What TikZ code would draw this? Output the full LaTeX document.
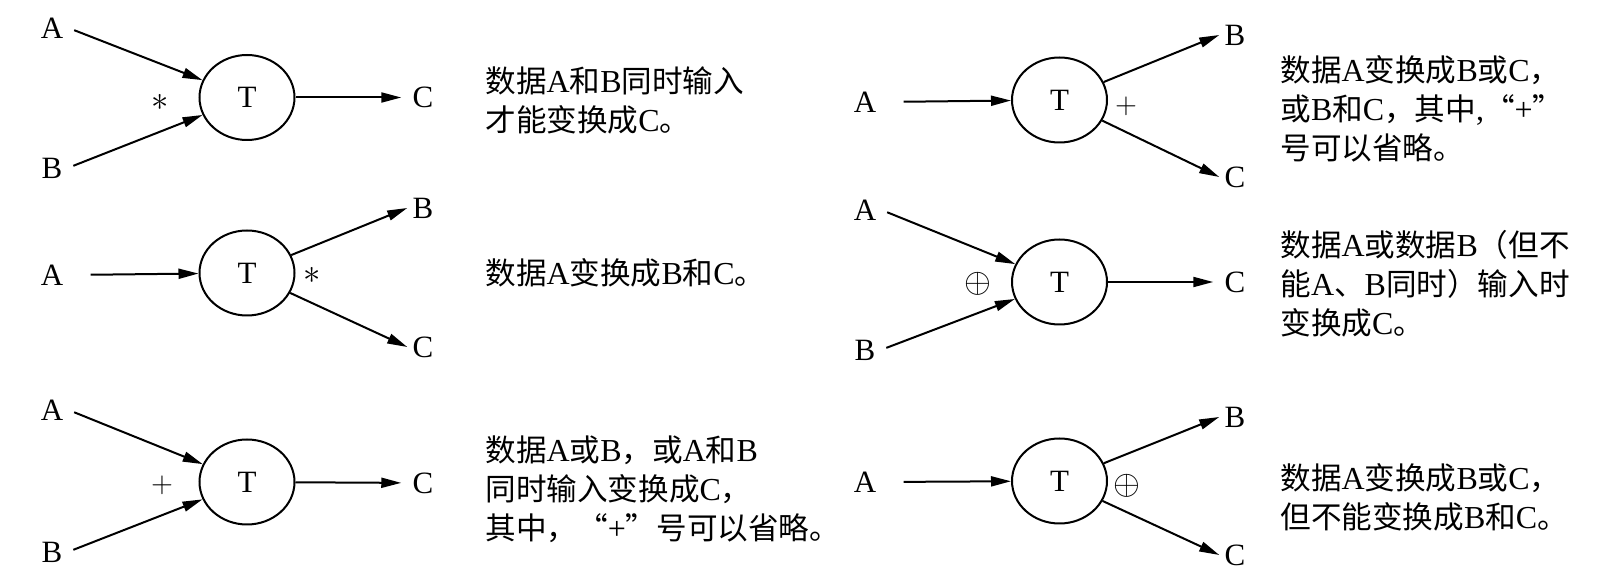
\documentclass[tikz,border=0pt]{standalone}
\usepackage{fontspec}
\setmainfont{Liberation Serif}
\newfontfamily\cjk{Noto Sans CJK SC}
\usetikzlibrary{shapes.geometric,arrows.meta}
\newcommand{\zh}[1]{{\cjk\fontsize{15.3}{19.5}\selectfont #1}}
\tikzset{
  lbl/.style={inner xsep=2.5pt, inner ysep=2pt, font=\fontsize{15.5}{18}\selectfont},
  proc/.style={ellipse, draw, line width=1pt, minimum width=47.5pt, minimum height=42.5pt, inner sep=0pt, font=\fontsize{15.5}{18}\selectfont},
  flow/.style={line width=1pt, -{Triangle[length=10pt,width=5pt]}},
  desc/.style={align=left, anchor=west, inner sep=0pt, font=\fontsize{16}{19.5}\selectfont},
  sym/.style={inner sep=0pt, font=\fontsize{15}{18}\selectfont}
}
\begin{document}
\begin{tikzpicture}[x=0.5pt,y=-0.5pt]
\useasboundingbox (0,0) rectangle (1619,582);
% ---------- panel 1
\node[lbl] (a1) at (52,28) {A};
\node[lbl] (b1) at (52,168) {B};
\node[proc] (t1) at (247,97.5) {T};
\node[lbl] (c1) at (423,97.5) {C};
\node[sym] (s1) at (160,102) {\fontsize{19}{20}\selectfont$\ast$};
\draw[flow, shorten <=3pt] (a1.east) -- (t1);
\draw[flow, shorten <=3pt] (b1.east) -- (t1);
\draw[flow, shorten >=3pt] (t1) -- (c1);
\node[desc] (d1) at (485,100) {\zh{数据}A\zh{和}B\zh{同时输入}\\\zh{才能变换成}C\zh{。}};
% ---------- panel 2
\node[lbl] (a2) at (52,275) {A};
\node[proc] (t2) at (247,273) {T};
\node[lbl] (b2) at (423,208) {B};
\node[lbl] (c2) at (423,347) {C};
\node[sym] (s2) at (312,275) {\fontsize{19}{20}\selectfont$\ast$};
\draw[flow, shorten <=11pt] (a2.east) -- (t2);
\draw[flow] (t2) -- (b2.west);
\draw[flow] (t2) -- (c2.west);
\node[desc] (d2) at (485,273) {\zh{数据}A\zh{变换成}B\zh{和}C\zh{。}};
% ---------- panel 3
\node[lbl] (a3) at (52,410) {A};
\node[lbl] (b3) at (52,552) {B};
\node[proc] (t3) at (247,482) {T};
\node[lbl] (c3) at (423,483) {C};
\node[sym] (s3) at (162,485) {\fontsize{14}{15}\selectfont$+$};
\draw[flow, shorten <=3pt] (a3.east) -- (t3);
\draw[flow, shorten <=3pt] (b3.east) -- (t3);
\draw[flow, shorten >=3pt] (t3) -- (c3);
\node[desc] (d3) at (485,489) {\zh{数据}A\zh{或}B\zh{，或}A\zh{和}B\\\zh{同时输入变换成}C\zh{，}\\\zh{其中，“}+\zh{”号可以省略。}};
% ---------- panel 4
\node[lbl] (a4) at (865,102) {A};
\node[proc] (t4) at (1059.5,100) {T};
\node[lbl] (b4) at (1235,35) {B};
\node[lbl] (c4) at (1235,177) {C};
\node[sym] (s4) at (1126,106) {\fontsize{14}{15}\selectfont$+$};
\draw[flow, shorten <=11pt] (a4.east) -- (t4);
\draw[flow] (t4) -- (b4.west);
\draw[flow] (t4) -- (c4.west);
\node[desc] (d4) at (1280,109) {\zh{数据}A\zh{变换成}B\zh{或}C\zh{，}\\\zh{或}B\zh{和}C\zh{，其中},\zh{“}+\zh{”}\\\zh{号可以省略。}};
% ---------- panel 5
\node[lbl] (a5) at (865,210) {A};
\node[lbl] (b5) at (865,350) {B};
\node[proc] (t5) at (1059.5,282) {T};
\node[lbl] (c5) at (1235,282) {C};
\node[sym] (s5) at (978,284) {\fontsize{17}{18}\selectfont$\oplus$};
\draw[flow, shorten <=3pt] (a5.east) -- (t5);
\draw[flow, shorten <=3pt] (b5.east) -- (t5);
\draw[flow, shorten >=3pt] (t5) -- (c5);
\node[desc] (d5) at (1280,284) {\zh{数据}A\zh{或数据}B\zh{（但不}\\\zh{能}A\zh{、}B\zh{同时）输入时}\\\zh{变换成}C\zh{。}};
% ---------- panel 6
\node[lbl] (a6) at (865,482) {A};
\node[proc] (t6) at (1059.5,481) {T};
\node[lbl] (b6) at (1235,417) {B};
\node[lbl] (c6) at (1235,555) {C};
\node[sym] (s6) at (1127,486) {\fontsize{17}{18}\selectfont$\oplus$};
\draw[flow, shorten <=11pt] (a6.east) -- (t6);
\draw[flow] (t6) -- (b6.west);
\draw[flow] (t6) -- (c6.west);
\node[desc] (d6) at (1280,497.5) {\zh{数据}A\zh{变换成}B\zh{或}C\zh{，}\\\zh{但不能变换成}B\zh{和}C\zh{。}};
\end{tikzpicture}
\end{document}
